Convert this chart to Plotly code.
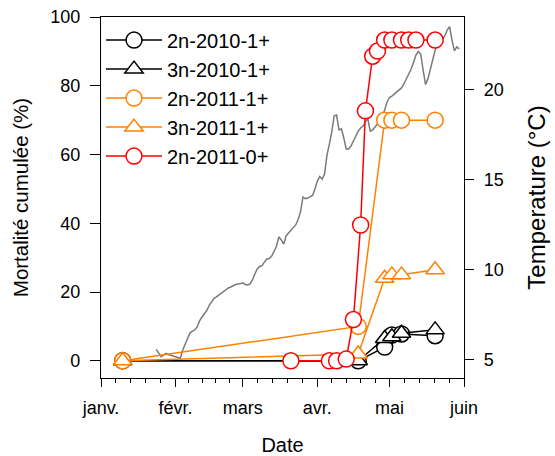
import pandas as pd
import plotly.graph_objects as go

# ---- mortality series (cumulative %, by sampling date) ----
dates_2n_2010_1 = ["2011-01-10", "2011-04-18", "2011-04-29", "2011-05-02", "2011-05-06", "2011-05-20"]
mort_2n_2010_1 = [0, 0, 4, 7.5, 7.8, 7.3]

dates_3n_2010_1 = ["2011-01-10", "2011-04-18", "2011-04-29", "2011-05-02", "2011-05-06", "2011-05-20"]
mort_3n_2010_1 = [0, 0, 6.5, 7, 8, 9]

dates_2n_2011_1 = ["2011-01-10", "2011-04-18", "2011-04-29", "2011-05-02", "2011-05-06", "2011-05-20"]
mort_2n_2011_1 = [0, 10, 70, 70, 70, 70]

dates_3n_2011_1 = ["2011-01-10", "2011-04-18", "2011-04-29", "2011-05-02", "2011-05-06", "2011-05-20"]
mort_3n_2011_1 = [0, 2, 24, 25, 25, 26.5]

dates_2n_2011_0 = ["2011-03-21", "2011-04-06", "2011-04-09", "2011-04-13", "2011-04-16",
                   "2011-04-19", "2011-04-21", "2011-04-24", "2011-04-26", "2011-04-29",
                   "2011-05-02", "2011-05-06", "2011-05-09", "2011-05-12", "2011-05-20"]
mort_2n_2011_0 = [0, 0, 0, 0.5, 12, 39.5, 72.7, 88.6, 90.1, 93.3, 93.3, 93.3, 93.3, 93.3, 93.3]

# ---- daily water temperature (°C) from 24 Jan ----
temp_start = "2011-01-24"
temp_values = [
    5.59, 5.39, 5.18, 5.27, 5.36, 5.30, 5.25, 5.22, 5.16, 5.11,
    5.09, 5.55, 5.88, 6.22, 6.49, 6.60, 6.66, 6.83, 7.16, 7.38,
    7.55, 7.74, 8.02, 8.21, 8.40, 8.49, 8.60, 8.71, 8.82, 8.93,
    8.99, 9.04, 9.12, 9.18, 9.21, 9.24, 9.26, 9.18, 9.15, 9.21,
    9.43, 9.76, 10.04, 10.18, 10.23, 10.43, 10.59, 10.62, 10.76, 11.01,
    11.31, 11.81, 11.65, 11.42, 11.87, 12.03, 12.17, 12.31, 12.48, 12.78,
    13.20, 14.03, 13.94, 13.97, 14.03, 14.11, 14.47, 14.91, 15.16, 15.02,
    15.30, 16.35, 16.96, 17.63, 18.52, 18.57, 17.74, 17.80, 17.30, 16.69,
    16.69, 16.85, 17.13, 17.46, 17.68, 17.85, 17.96, 18.21, 18.35, 17.68,
    17.74, 17.91, 18.07, 18.24, 18.52, 18.85, 19.29, 19.54, 19.62, 19.73,
    19.84, 19.96, 20.07, 20.29, 20.57, 20.81, 21.12, 21.48, 21.89, 22.09,
    21.95, 21.06, 20.26, 20.57, 21.06, 21.62, 22.17, 22.45, 22.64, 22.78,
    22.95, 23.28, 23.47, 22.73, 22.12, 22.34, 22.23,
]
temp_dates = pd.date_range(temp_start, periods=len(temp_values), freq="D")

# ---- axis labels ----
month_ticks = ["2011-01-01", "2011-02-01", "2011-03-01", "2011-04-01", "2011-05-01", "2011-06-01"]
month_labels = ["janv.", "févr.", "mars", "avr.", "mai", "juin"]
mort_ticks = [0, 20, 40, 60, 80, 100]
temp_ticks = [5, 10, 15, 20]

# minor ticks: each month split into five
minor_ticks = []
for a, b in zip(month_ticks[:-1], month_ticks[1:]):
    t0, t1 = pd.Timestamp(a), pd.Timestamp(b)
    for k in range(1, 5):
        minor_ticks.append((t0 + (t1 - t0) * k / 5).isoformat())

FONT = "Liberation Sans, Arial, sans-serif"
ORANGE = "#FF8000"

fig = go.Figure()

# temperature on the primary (right-hand) axis so it sits beneath the mortality curves
fig.add_trace(go.Scatter(
    x=temp_dates, y=temp_values, mode="lines", yaxis="y",
    line=dict(color="#7a7a7a", width=1.5), showlegend=False, hoverinfo="skip"))

series = [
    ("2n-2010-1+", dates_2n_2010_1, mort_2n_2010_1, "black", "circle"),
    ("3n-2010-1+", dates_3n_2010_1, mort_3n_2010_1, "black", "triangle-up"),
    ("2n-2011-1+", dates_2n_2011_1, mort_2n_2011_1, ORANGE, "circle"),
    ("3n-2011-1+", dates_3n_2011_1, mort_3n_2011_1, ORANGE, "triangle-up"),
    ("2n-2011-0+", dates_2n_2011_0, mort_2n_2011_0, "#FF0000", "circle"),
]
for name, d, v, col, sym in series:
    fig.add_trace(go.Scatter(
        x=d, y=v, name=name, mode="lines+markers", yaxis="y2",
        line=dict(color=col, width=1.5),
        marker=dict(symbol=sym, size=16, color="white",
                    line=dict(color=col, width=1.5))))

axis_common = dict(showline=True, linecolor="black", linewidth=1.2,
                   ticks="outside", tickcolor="black", tickwidth=1.2,
                   showgrid=False, zeroline=False, automargin=False,
                   tickfont=dict(family=FONT, size=18, color="black"))

fig.update_layout(
    width=555, height=456,
    margin=dict(l=101, r=91, t=17, b=78),
    paper_bgcolor="white", plot_bgcolor="white",
    font=dict(family=FONT, color="black"),
    xaxis=dict(
        type="date", range=["2011-01-01", "2011-06-01"],
        tickvals=month_ticks, ticktext=month_labels, ticklen=8,
        ticklabelstandoff=5, mirror=True,
        minor=dict(tickvals=minor_ticks, ticks="outside", ticklen=4,
                   tickcolor="black", tickwidth=1, showgrid=False),
        title=dict(text="Date", font=dict(family=FONT, size=20), standoff=23),
        **axis_common),
    yaxis=dict(
        side="right", range=[4, 24], tickvals=temp_ticks, ticklen=9,
        ticklabelstandoff=6,
        title=dict(text="Temperature (°C)", font=dict(family=FONT, size=24), standoff=25),
        **axis_common),
    yaxis2=dict(
        side="left", overlaying="y", range=[-5, 100], tickvals=mort_ticks,
        ticklen=10, ticklabelstandoff=6,
        title=dict(text="Mortalité cumulée (%)", font=dict(family=FONT, size=20.5), standoff=16),
        **axis_common),
    legend=dict(
        x=0.0, y=0.99, xanchor="left", yanchor="top",
        bgcolor="rgba(0,0,0,0)", borderwidth=0,
        font=dict(family=FONT, size=20, color="black"),
        itemwidth=56, tracegroupgap=0),
)

fig.write_html("out.html")
